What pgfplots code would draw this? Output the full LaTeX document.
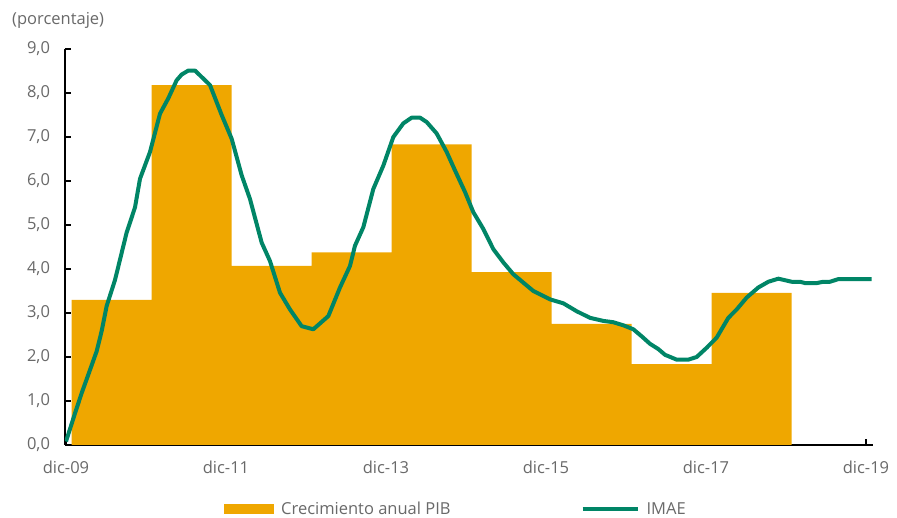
\documentclass[border=0pt]{standalone}
\usepackage{pgfplots}
\pgfplotsset{compat=1.18}
\usepackage{fontspec}
\setmainfont{Open Sans}
\definecolor{barc}{RGB}{239,167,0}
\definecolor{linec}{RGB}{0,133,102}
\definecolor{txt}{RGB}{105,105,105}
\begin{document}
\begin{tikzpicture}
\path[use as bounding box] (-65pt,-73pt) rectangle (832pt,445pt);
\begin{axis}[
  at={(0pt,0pt)}, anchor=south west,
  scale only axis, width=808pt, height=396pt,
  xmin=-0.15, xmax=121.05, ymin=0, ymax=9,
  axis x line*=bottom, axis y line*=left,
  axis line style={line width=1.5pt, black, -},
  tick align=inside, major tick length=6pt,
  tick style={line width=1.5pt, black},
  xtick={0,24,48,72,96,120},
  xticklabels={dic-09,dic-11,dic-13,dic-15,dic-17,dic-19},
  ytick={0,1,...,9},
  /pgf/number format/.cd, fixed, fixed zerofill, precision=1, use comma, assume math mode=true,
  /pgfplots/.cd,
  ticklabel style={font=\fontsize{16.5}{19}\selectfont, text=txt},
  yticklabel style={xshift=-11.5pt},
  xticklabel style={yshift=-12pt},
  legend columns=2,
  legend style={at={(0.1931,-0.162)}, anchor=west, draw=none, fill=none,
    font=\fontsize{16.5}{19}\selectfont, text=txt,
    /tikz/every odd column/.append style={column sep=5pt},
    /tikz/every even column/.append style={column sep=128pt}},
]
\addplot[ybar interval, fill=barc, draw=none,
  legend image code/.code={\fill[barc] (0pt,-5pt) rectangle (50pt,5pt);}]
  coordinates {(0.85,3.30) (12.85,8.18) (24.85,4.07) (36.85,4.38) (48.85,6.83)
    (60.85,3.93) (72.85,2.75) (84.85,1.84) (96.85,3.46) (108.85,3.46)};
\addlegendentry{Crecimiento anual PIB}
\addplot[linec, line width=4pt, line join=round,
  legend image code/.code={\draw[linec, line width=4pt] (0pt,0pt) -- (55pt,0pt);}]
  coordinates {
(0,0.08) (1.35,0.72) (2.35,1.18) (3.35,1.60) (4.6,2.13) (5.35,2.59) (6.1,3.16)
(7.35,3.75) (9.1,4.83) (10.35,5.40) (11.1,6.05) (12.6,6.66) (14.1,7.53)
(15.35,7.88) (16.6,8.29) (17.35,8.42) (18.35,8.51) (19.35,8.51) (21.6,8.18)
(23.35,7.50) (24.85,6.96) (26.35,6.13) (27.6,5.59) (29.35,4.60) (30.6,4.18)
(32.1,3.46) (33.6,3.08) (35.35,2.70) (37.1,2.63) (39.35,2.93) (41.1,3.58)
(42.6,4.07) (43.35,4.53) (44.6,4.95) (46.1,5.82) (47.6,6.35) (49.1,7.00)
(50.6,7.31) (51.85,7.44) (53.1,7.44) (54.1,7.34) (55.6,7.08) (57.1,6.66)
(58.35,6.24) (59.85,5.75) (61.1,5.29) (62.6,4.91) (64.1,4.45) (65.6,4.15)
(67.1,3.88) (68.6,3.69) (70.1,3.50) (72.6,3.31) (74.6,3.22) (76.6,3.04)
(78.6,2.89) (80.6,2.82) (82.1,2.79) (83.6,2.72) (85.1,2.63) (86.35,2.47)
(87.6,2.30) (88.85,2.18) (89.85,2.05) (91.6,1.94) (93.35,1.94) (94.6,2.00)
(96.1,2.21) (97.6,2.44) (99.35,2.89) (100.6,3.08) (102.1,3.35) (103.85,3.58)
(105.35,3.71) (106.85,3.78) (108.85,3.71) (110.1,3.71) (110.85,3.68)
(112.6,3.68) (113.6,3.71) (114.6,3.71) (115.85,3.77) (120.85,3.77)};
\addlegendentry{IMAE}
\end{axis}
\node[anchor=west, inner sep=0pt, text=txt, font=\fontsize{16.5}{19}\selectfont] at (-53pt,425pt) {(porcentaje)};
\end{tikzpicture}
\end{document}
